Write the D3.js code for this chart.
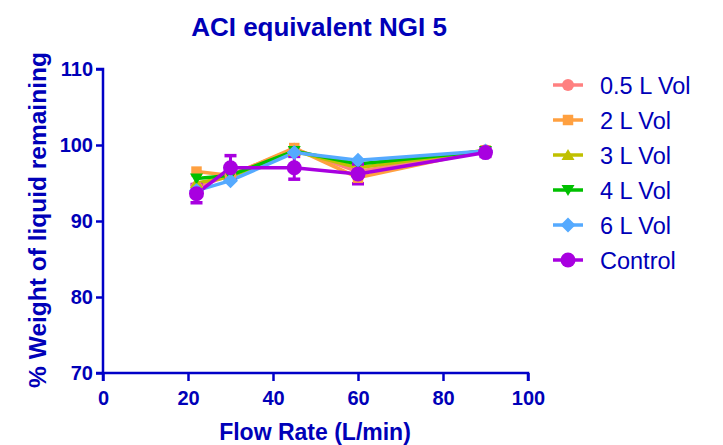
<!DOCTYPE html>
<html>
<head>
<meta charset="utf-8">
<script src="https://cdn.jsdelivr.net/npm/d3@7"></script>
<style>
  body { margin: 0; background: #fff; }
  text { font-family: Arial, "Liberation Sans", sans-serif; fill: #0000b8; }
</style>
</head>
<body>
<script>
var flowRates = [22, 30, 45, 60, 90];
var seriesNames = ["0.5 L Vol", "2 L Vol", "3 L Vol", "4 L Vol", "6 L Vol", "Control"];
var vol05 = [94.5, 96.0, 99.5, 96.5, 99.3];
var vol2 = [96.5, 96.0, 99.6, 95.7, 99.3];
var vol3 = [95.0, 95.8, 99.2, 97.0, 99.3];
var vol4 = [95.6, 96.0, 99.2, 97.5, 99.2];
var vol6 = [94.0, 95.3, 99.0, 98.0, 99.2];
var control = [93.6, 97.0, 97.0, 96.2, 99.0];
var controlErr = [1.2, 1.6, 1.5, 1.3, 0.5];
var xTicks = [0, 20, 40, 60, 80, 100];
var yTicks = [70, 80, 90, 100, 110];

var axisColor = "#0000c8";
var colors = ["#ff8080", "#ffa040", "#c0c000", "#00c000", "#55aaff", "#a800e0"];
var symbols = ["circle", "square", "tri", "tridown", "diamond", "bigcircle"];
var allValues = [vol05, vol2, vol3, vol4, vol6, control];

var margin = {top: 69, left: 103},
    width = 425, height = 304;

var svg = d3.select("body").append("svg")
    .attr("width", 723).attr("height", 445);

var x = d3.scaleLinear().domain([0, 100]).range([0, width]);
var y = d3.scaleLinear().domain([70, 110]).range([height, 0]);

var g = svg.append("g")
    .attr("transform", "translate(" + margin.left + "," + margin.top + ")");

function marker(sel, type) {
  if (type === "tri") {
    sel.append("path").attr("d", "M0,-6L6.5,5L-6.5,5Z");
  } else if (type === "tridown") {
    sel.append("path").attr("d", "M0,6L6.5,-5L-6.5,-5Z");
  } else if (type === "diamond") {
    sel.append("path").attr("d", "M0,-7.5L7.5,0L0,7.5L-7.5,0Z");
  } else if (type === "square") {
    sel.append("path").attr("d", d3.symbol().type(d3.symbolSquare).size(110)());
  } else if (type === "circle") {
    sel.append("circle").attr("r", 6);
  } else {
    sel.append("circle").attr("r", 7.5);
  }
}

// series lines
var line = d3.line().x(function(d) { return x(d.x); }).y(function(d) { return y(d.y); });
allValues.forEach(function(vals, i) {
  var pts = flowRates.map(function(f, j) { return {x: f, y: vals[j]}; });
  g.append("path").datum(pts)
    .attr("fill", "none").attr("stroke", colors[i]).attr("stroke-width", 3.5)
    .attr("d", line);
});

// control error bars
flowRates.forEach(function(f, j) {
  var cx = x(f), lo = y(control[j] - controlErr[j]), hi = y(control[j] + controlErr[j]);
  g.append("line").attr("x1", cx).attr("x2", cx).attr("y1", lo).attr("y2", hi)
    .attr("stroke", colors[5]).attr("stroke-width", 3);
  [lo, hi].forEach(function(yy) {
    g.append("line").attr("x1", cx - 6).attr("x2", cx + 6).attr("y1", yy).attr("y2", yy)
      .attr("stroke", colors[5]).attr("stroke-width", 3.5);
  });
});

// markers
allValues.forEach(function(vals, i) {
  flowRates.forEach(function(f, j) {
    var m = g.append("g").attr("transform", "translate(" + x(f) + "," + y(vals[j]) + ")")
      .attr("fill", colors[i]);
    marker(m, symbols[i]);
  });
});

// axes
var xAxis = g.append("g").attr("transform", "translate(0," + height + ")")
  .call(d3.axisBottom(x).tickValues(xTicks).tickSize(8).tickPadding(10));
var yAxis = g.append("g")
  .call(d3.axisLeft(y).tickValues(yTicks).tickSize(7).tickPadding(3));
[xAxis, yAxis].forEach(function(a) {
  a.select(".domain").attr("stroke", axisColor).attr("stroke-width", 2.5);
  a.selectAll(".tick line").attr("stroke", axisColor).attr("stroke-width", 2.5);
  a.selectAll(".tick text").attr("fill", axisColor)
    .style("font-size", "20px").style("font-weight", "bold");
});
xAxis.select(".domain").attr("d", "M0,8V0H" + width + "V8");
yAxis.select(".domain").attr("d", "M-7,0H0V" + height + "H-7");

// titles
svg.append("text").attr("x", 319).attr("y", 36).attr("text-anchor", "middle")
  .style("font-size", "26px").style("font-weight", "bold").attr("fill", axisColor)
  .text("ACI equivalent NGI 5");
svg.append("text").attr("x", 315).attr("y", 440).attr("text-anchor", "middle")
  .style("font-size", "23px").style("font-weight", "bold").attr("fill", axisColor)
  .text("Flow Rate (L/min)");
svg.append("text").attr("transform", "translate(46,220) rotate(-90)").attr("text-anchor", "middle")
  .style("font-size", "24.5px").style("font-weight", "bold").attr("fill", axisColor)
  .text("% Weight of liquid remaining");

// legend
var legend = svg.append("g").attr("transform", "translate(568,85)");
seriesNames.forEach(function(name, i) {
  var row = legend.append("g").attr("transform", "translate(0," + (i * 35) + ")");
  row.append("line").attr("x1", -15).attr("x2", 15).attr("stroke", colors[i]).attr("stroke-width", 3.5);
  var m = row.append("g").attr("fill", colors[i]);
  marker(m, symbols[i]);
  row.append("text").attr("x", 32).attr("y", 8.5).style("font-size", "23.5px")
    .attr("fill", "#0000b8").text(name);
});
</script>
</body>
</html>
